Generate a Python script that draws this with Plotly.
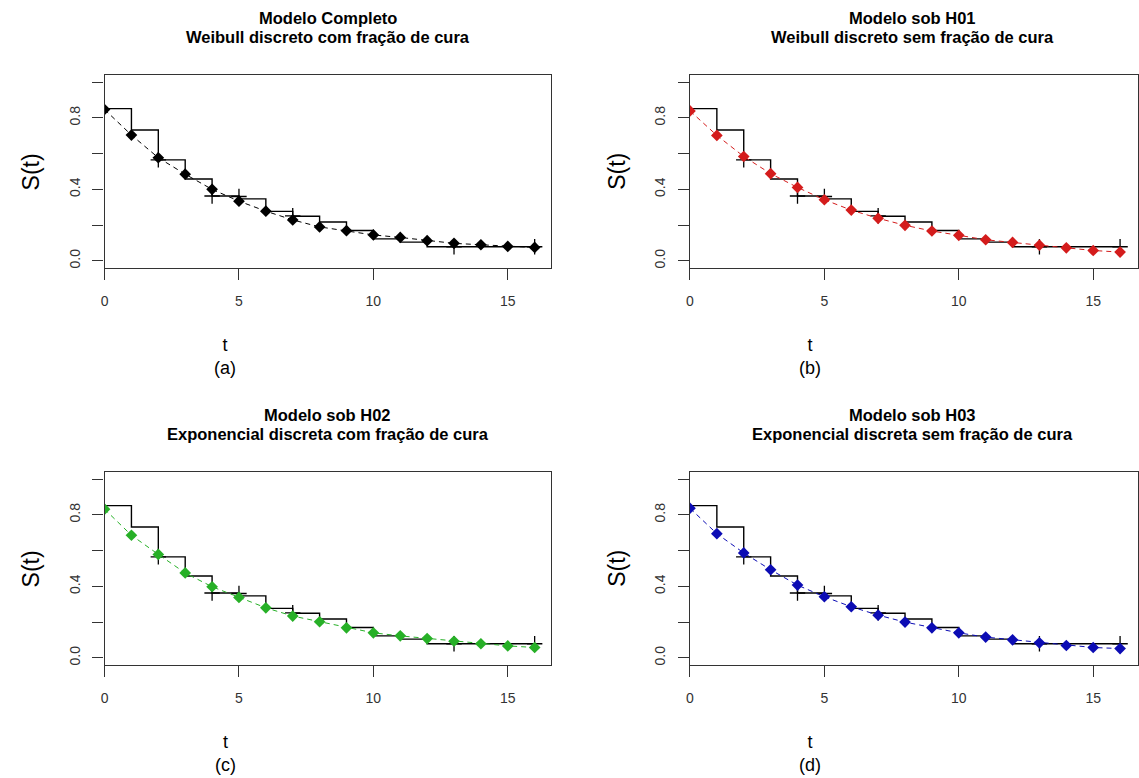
import plotly.graph_objects as go

W, H = 1139, 778

# ---------------- data ----------------
t_fit = list(range(0, 17))

km_t = [0, 1, 2, 3, 4, 5, 6, 7, 8, 9, 10, 11, 12, 16]
km_s = [0.852, 0.732, 0.565, 0.458, 0.363, 0.347, 0.277, 0.250, 0.217, 0.170, 0.123, 0.105, 0.079, 0.079]

cens_t = [2, 4, 5, 7, 13, 16]
cens_s = [0.565, 0.363, 0.360, 0.252, 0.079, 0.079]

s_full = [0.847, 0.704, 0.577, 0.485, 0.400, 0.334, 0.278, 0.229, 0.190, 0.169, 0.145, 0.131, 0.113, 0.098, 0.090, 0.081, 0.075]
s_h01 = [0.839, 0.702, 0.584, 0.488, 0.411, 0.342, 0.284, 0.238, 0.199, 0.167, 0.143, 0.118, 0.103, 0.088, 0.073, 0.058, 0.049]
s_h02 = [0.832, 0.686, 0.579, 0.475, 0.398, 0.338, 0.280, 0.234, 0.202, 0.168, 0.140, 0.123, 0.108, 0.093, 0.079, 0.067, 0.058]
s_h03 = [0.837, 0.695, 0.587, 0.493, 0.407, 0.342, 0.286, 0.239, 0.200, 0.168, 0.140, 0.116, 0.101, 0.084, 0.069, 0.058, 0.052]

titles = [
    ("Modelo Completo", "Weibull discreto com fração de cura"),
    ("Modelo sob H01", "Weibull discreto sem fração de cura"),
    ("Modelo sob H02", "Exponencial discreta com fração de cura"),
    ("Modelo sob H03", "Exponencial discreta sem fração de cura"),
]
panel_tags = ["(a)", "(b)", "(c)", "(d)"]
fits = [s_full, s_h01, s_h02, s_h03]
colors = ["#000000", "#d41c1c", "#27b027", "#0c0cb4"]

y_tickvals = [0, 0.2, 0.4, 0.6, 0.8, 1.0]
y_ticktext = ["0.0", "", "0.4", "", "0.8", ""]
x_tickvals = [0, 5, 10, 15]
x_ticktext = ["0", "5", "10", "15"]

# ---------------- layout geometry (pixels) ----------------
FONT = "Liberation Sans, Arial, sans-serif"
px_per_t = 27.0
box_left = [101, 689, 101, 689]
box_top = [75, 75, 472, 472]
box_w, box_h = 448, 193


def px_x(p):
    return p / W


def px_y(p):
    return 1 - p / H


fig = go.Figure()
annotations = []
layout = {}

for i in range(4):
    ax = "" if i == 0 else str(i + 1)
    xref, yref = "x" + ax, "y" + ax
    left = box_left[i]
    right = W if i % 2 == 1 else left + box_w
    top = box_top[i]
    bottom = top + box_h
    xmax = (right - left) / px_per_t

    # KM step curve
    fig.add_trace(go.Scatter(
        x=km_t, y=km_s, mode="lines", line=dict(color="black", width=1.4, shape="hv"),
        xaxis=xref, yaxis=yref, showlegend=False, hoverinfo="skip"))
    # censoring marks
    fig.add_trace(go.Scatter(
        x=cens_t, y=cens_s, mode="markers",
        marker=dict(symbol="cross-thin", size=11, line=dict(color="black", width=1.3)),
        xaxis=xref, yaxis=yref, showlegend=False, hoverinfo="skip"))
    # fitted dashed curve
    fig.add_trace(go.Scatter(
        x=t_fit, y=fits[i], mode="lines",
        line=dict(color=colors[i], width=1, dash="5px,4px"),
        xaxis=xref, yaxis=yref, showlegend=False, hoverinfo="skip"))
    # fitted points
    fig.add_trace(go.Scatter(
        x=t_fit, y=fits[i], mode="markers",
        marker=dict(symbol="diamond", size=9, color=colors[i]),
        xaxis=xref, yaxis=yref, showlegend=False, hoverinfo="skip"))

    layout["xaxis" + ax] = dict(
        domain=[px_x(left), px_x(right)], range=[0, xmax], anchor=yref,
        showline=True, mirror=True, linecolor="#333333", linewidth=1.3,
        ticks="outside", ticklen=11, tickcolor="#333333", tickwidth=1.2,
        tickvals=x_tickvals, ticktext=x_ticktext, showgrid=False, zeroline=False,
        tickfont=dict(family=FONT, size=14, color="#333333"), ticklabelstandoff=9)
    layout["yaxis" + ax] = dict(
        domain=[px_y(bottom), px_y(top)], range=[-0.04, 1.04], anchor=xref,
        showline=True, mirror=True, linecolor="#333333", linewidth=1.3,
        ticks="outside", ticklen=11, tickcolor="#333333", tickwidth=1.2,
        tickvals=y_tickvals, ticktext=y_ticktext, showgrid=False, zeroline=False,
        tickangle=-90, tickfont=dict(family=FONT, size=14, color="#333333"),
        ticklabelstandoff=7)

    cx = (left + left + box_w) / 2
    # title (two lines)
    annotations.append(dict(x=px_x(cx), y=px_y(top - 57), xref="paper", yref="paper",
                            text="<b>" + titles[i][0] + "</b>", showarrow=False,
                            font=dict(family=FONT, size=16.5, color="black"),
                            xanchor="center", yanchor="middle"))
    annotations.append(dict(x=px_x(cx), y=px_y(top - 38), xref="paper", yref="paper",
                            text="<b>" + titles[i][1] + "</b>", showarrow=False,
                            font=dict(family=FONT, size=16.5, color="black"),
                            xanchor="center", yanchor="middle"))
    # y label
    annotations.append(dict(x=px_x(left - 74), y=px_y((top + bottom) / 2), xref="paper", yref="paper",
                            text="S(t)", textangle=-90, showarrow=False,
                            font=dict(family=FONT, size=23, color="black"),
                            xanchor="center", yanchor="middle"))
    # x label with panel tag (two lines)
    annotations.append(dict(x=px_x(left + 121), y=px_y(bottom + 88), xref="paper", yref="paper",
                            text="t<br>" + panel_tags[i], showarrow=False,
                            font=dict(family=FONT, size=18, color="black"),
                            xanchor="center", yanchor="middle"))

fig.update_layout(**layout)
fig.update_layout(
    width=W, height=H, margin=dict(l=0, r=0, t=0, b=0),
    paper_bgcolor="white", plot_bgcolor="white",
    annotations=annotations, showlegend=False,
)

fig.write_html("out.html")
